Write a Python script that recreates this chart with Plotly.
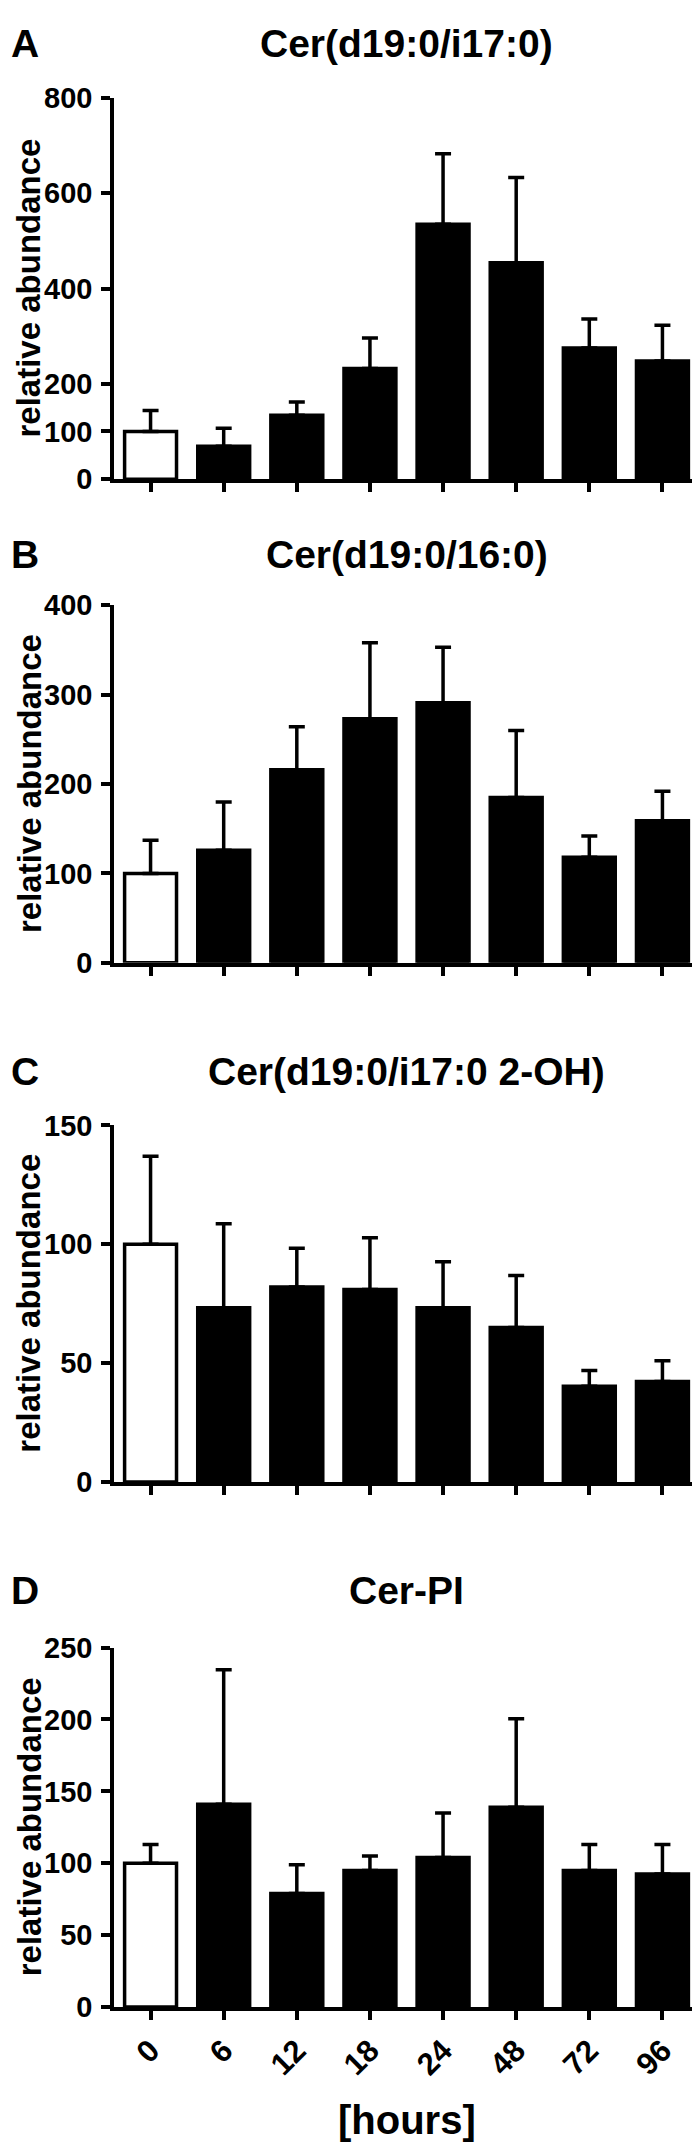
import plotly.graph_objects as go

W, H = 700, 2154

hours = ["0", "6", "12", "18", "24", "48", "72", "96"]

titles = ["Cer(d19:0/i17:0)", "Cer(d19:0/16:0)", "Cer(d19:0/i17:0 2-OH)", "Cer-PI"]
panel_letters = ["A", "B", "C", "D"]

cer_i17_mean = [100, 69, 134, 232, 535, 454, 275, 248]
cer_i17_err = [44, 38, 28, 64, 148, 179, 61, 75]

cer_16_mean = [100, 126, 216, 273, 291, 185, 118, 159]
cer_16_err = [37, 54, 48, 85, 62, 75, 24, 33]

cer_i17oh_mean = [100, 73.3, 82, 81, 73.3, 65, 40.3, 42.3]
cer_i17oh_err = [37, 35.3, 16.3, 21.7, 19.3, 21.9, 6.6, 8.7]

cer_pi_mean = [100, 141, 79, 95, 104, 139, 95, 92.5]
cer_pi_err = [13, 93.5, 20, 10, 31, 61.5, 18, 20.5]

y_max = [800, 400, 150, 250]
y_ticks = [[0, 100, 200, 400, 600, 800], [0, 100, 200, 300, 400], [0, 50, 100, 150], [0, 50, 100, 150, 200, 250]]

means = [cer_i17_mean, cer_16_mean, cer_i17oh_mean, cer_pi_mean]
errs = [cer_i17_err, cer_16_err, cer_i17oh_err, cer_pi_err]

# pixel layout (top, bottom) of each plot area
panels_px = [(75, 462), (590, 953), (1118, 1480), (1648, 2013)]
title_px = [20, 538, 1063, 1590]
x_left, x_right = 106, 691

NARROW = "Liberation Sans Narrow, Arial Narrow, Liberation Sans, Arial, sans-serif"
FONT = "Liberation Sans, Arial, Helvetica, sans-serif"

fig = go.Figure()
bar_colors = ["white"] + ["black"] * 7

for i in range(4):
    sfx = "" if i == 0 else str(i + 1)
    fig.add_trace(go.Bar(
        x=hours, y=means[i],
        width=0.71,
        marker=dict(color=bar_colors, line=dict(color="black", width=3.5)),
        error_y=dict(type="data", symmetric=False, array=errs[i],
                     arrayminus=[0] * len(hours), color="black",
                     thickness=3.5, width=8),
        xaxis="x" + sfx, yaxis="y" + sfx, showlegend=False,
    ))
    top, bot = panels_px[i]
    ydom = [1 - bot / H, 1 - top / H]
    xdom = [x_left / W, x_right / W]
    fig.layout["xaxis" + sfx] = dict(
        domain=xdom, anchor="y" + sfx, type="category",
        range=[-0.5, 7.5], showline=True, linewidth=3.5, linecolor="black",
        ticks="outside", ticklen=9, tickwidth=3.5, tickcolor="black",
        showgrid=False, zeroline=False,
        showticklabels=(i == 3), tickangle=-45,
        tickfont=dict(family=NARROW, size=31, color="black", weight="bold"),
    )
    fig.layout["yaxis" + sfx] = dict(
        domain=ydom, anchor="x" + sfx, range=[0, y_max[i]],
        tickvals=y_ticks[i], showline=True, linewidth=3.5, linecolor="black",
        ticks="outside", ticklen=9, tickwidth=3.5, tickcolor="black",
        showgrid=False, zeroline=False, ticklabelstandoff=3,
        tickfont=dict(family=NARROW, size=29, color="black", weight="bold"),
    )
    xc = (x_left + x_right) / 2 / W
    fig.add_annotation(text=titles[i], xref="paper", yref="paper",
                       x=xc, y=1 - title_px[i] / H, xanchor="center", yanchor="middle",
                       showarrow=False,
                       font=dict(family=NARROW, size=39, color="black", weight="bold"))
    fig.add_annotation(text=panel_letters[i], xref="paper", yref="paper",
                       x=1 / W, y=1 - title_px[i] / H, xanchor="left", yanchor="middle",
                       showarrow=False,
                       font=dict(family=NARROW, size=39, color="black", weight="bold"))
    fig.add_annotation(text="relative abundance", xref="paper", yref="paper",
                       x=21 / W, y=1 - (top + bot) / 2 / H, xanchor="center", yanchor="middle",
                       textangle=-90, showarrow=False,
                       font=dict(family=FONT, size=33, color="black", weight="bold"))

fig.add_annotation(text="[hours]", xref="paper", yref="paper",
                   x=(x_left + x_right) / 2 / W, y=1 - 2128 / H,
                   xanchor="center", yanchor="middle", showarrow=False,
                   font=dict(family=NARROW, size=40, color="black", weight="bold"))

fig.update_layout(
    width=W, height=H, margin=dict(l=0, r=0, t=0, b=0),
    paper_bgcolor="white", plot_bgcolor="white", bargap=0.3,
)

fig.write_html("out.html")
